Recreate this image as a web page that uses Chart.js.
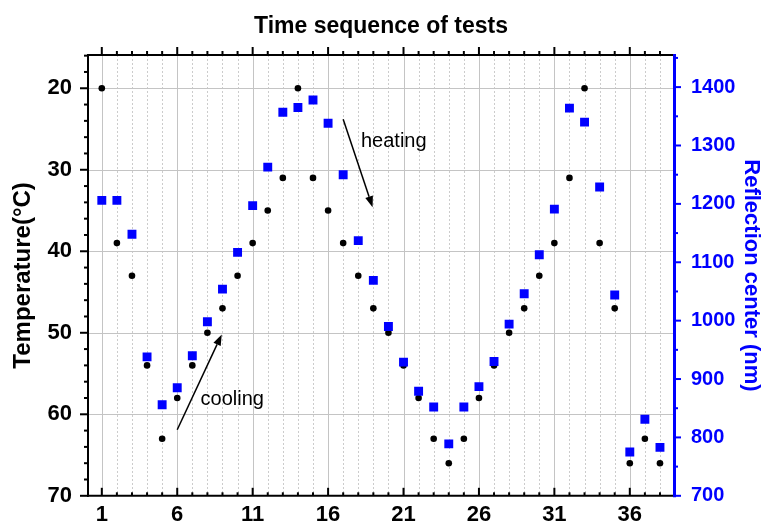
<!DOCTYPE html>
<html>
<head>
<meta charset="utf-8">
<script src="https://cdn.jsdelivr.net/npm/chart.js@4.4.0/dist/chart.umd.min.js"></script>
<style>
  html, body { margin: 0; padding: 0; background: #fff; }
</style>
</head>
<body>
<canvas id="seqChart" width="767" height="525"></canvas>
<script>
// test number along the sequence
const testIndex = [1, 2, 3, 4, 5, 6, 7, 8, 9, 10, 11, 12, 13, 14, 15, 16, 17, 18, 19,
  20, 21, 22, 23, 24, 25, 26, 27, 28, 29, 30, 31, 32, 33, 34, 35, 36, 37, 38];
// temperature of each test (°C), black dots
const temperature = [20, 39, 43, 54, 63, 58, 54, 50, 47, 43, 39, 35, 31, 20, 31, 35, 39, 43, 47,
  50, 54, 58, 63, 66, 63, 58, 54, 50, 47, 43, 39, 31, 20, 39, 47, 66, 63, 66];
// reflection center (nm), blue squares
const reflection = [1206, 1206, 1148, 938, 856, 885, 940, 998, 1054, 1117, 1197, 1263, 1357, 1365, 1378, 1338, 1250, 1137, 1069,
  990, 929, 879, 852, 789, 852, 887, 930, 994, 1046, 1113, 1191, 1364, 1340, 1229, 1044, 775, 831, 783];

const xTickValues = [1, 6, 11, 16, 21, 26, 31, 36];
const tempTickValues = [20, 30, 40, 50, 60, 70];
const tempMinorTicks = [16, 18, 22, 24, 26, 28, 32, 34, 36, 38, 42, 44, 46, 48, 52, 54, 56, 58, 62, 64, 66, 68];
const reflTickValues = [700, 800, 900, 1000, 1100, 1200, 1300, 1400];
const reflMinorTicks = [750, 850, 950, 1050, 1150, 1250, 1350, 1450];

// annotation arrows and words, in data units (x, temperature)
const arrowFrom = [[17.0, 23.8], [6.0, 61.9]];
const arrowTo = [[18.95, 34.6], [8.95, 50.2]];
const noteText = ['heating', 'cooling'];
const noteAt = [[18.18, 26.54], [7.55, 58.18]];

const BLUE = '#0000ff';
Chart.defaults.font.family = '"Liberation Sans", Arial, sans-serif';
Chart.defaults.color = '#000';

function seg(ctx, x0, y0, x1, y1) {
  ctx.beginPath();
  ctx.moveTo(x0, y0);
  ctx.lineTo(x1, y1);
  ctx.stroke();
}

function arrow(ctx, x0, y0, x1, y1) {
  const ang = Math.atan2(y1 - y0, x1 - x0);
  const head = 11, half = 4;
  const bx = x1 - head * Math.cos(ang), by = y1 - head * Math.sin(ang);
  seg(ctx, x0, y0, bx, by);
  ctx.beginPath();
  ctx.moveTo(x1, y1);
  ctx.lineTo(bx + half * Math.sin(ang), by - half * Math.cos(ang));
  ctx.lineTo(bx - half * Math.sin(ang), by + half * Math.cos(ang));
  ctx.closePath();
  ctx.fill();
}

const framePlugin = {
  id: 'frame',
  beforeDatasetsDraw(chart) {
    const {ctx, chartArea: a, scales: {x, y}} = chart;
    ctx.save();
    ctx.lineWidth = 1;
    ctx.strokeStyle = '#cccccc';
    ctx.setLineDash([2, 2]);
    testIndex.forEach(v => {
      if (xTickValues.includes(v)) return;
      const px = Math.round(x.getPixelForValue(v)) + 0.5;
      seg(ctx, px, a.top, px, a.bottom);
    });
    ctx.setLineDash([]);
    ctx.strokeStyle = '#c4c4c4';
    xTickValues.forEach(v => {
      const px = Math.round(x.getPixelForValue(v)) + 0.5;
      seg(ctx, px, a.top, px, a.bottom);
    });
    tempTickValues.forEach(v => {
      if (v >= 70) return;
      const py = Math.round(y.getPixelForValue(v)) + 0.5;
      seg(ctx, a.left, py, a.right, py);
    });
    ctx.restore();
  },
  afterDatasetsDraw(chart) {
    const {ctx, chartArea: a, scales: {x, y, y1}} = chart;
    ctx.save();
    // black frame: top, left, bottom
    ctx.strokeStyle = '#000';
    ctx.lineWidth = 2;
    seg(ctx, a.left, a.top, a.right, a.top);
    seg(ctx, a.left, a.top - 1, a.left, a.bottom + 1);
    seg(ctx, a.left - 1, a.bottom, a.right, a.bottom);
    // x ticks: bottom inward, top outward
    testIndex.forEach(v => {
      const px = x.getPixelForValue(v);
      const major = xTickValues.includes(v);
      seg(ctx, px, a.bottom, px, a.bottom - (major ? 8 : 3.5));
      seg(ctx, px, a.top, px, a.top - (major ? 8 : 4));
    });
    // left ticks outward
    tempTickValues.forEach(v => {
      const py = y.getPixelForValue(v);
      seg(ctx, a.left, py, a.left - 8, py);
    });
    tempMinorTicks.forEach(v => {
      const py = y.getPixelForValue(v);
      seg(ctx, a.left, py, a.left - 4, py);
    });
    // right axis in blue
    ctx.strokeStyle = BLUE;
    ctx.lineWidth = 3;
    seg(ctx, a.right + 0.5, a.top - 1, a.right + 0.5, a.bottom + 1.5);
    ctx.lineWidth = 2;
    reflTickValues.forEach(v => {
      const py = y1.getPixelForValue(v);
      seg(ctx, a.right, py, a.right + 7, py);
    });
    reflMinorTicks.forEach(v => {
      const py = y1.getPixelForValue(v);
      seg(ctx, a.right, py, a.right + 4, py);
    });
    // arrows and notes
    ctx.strokeStyle = '#000';
    ctx.fillStyle = '#000';
    ctx.lineWidth = 1.5;
    arrowFrom.forEach((f, i) => {
      const t = arrowTo[i];
      arrow(ctx, x.getPixelForValue(f[0]), y.getPixelForValue(f[1]),
        x.getPixelForValue(t[0]), y.getPixelForValue(t[1]));
    });
    ctx.font = '20px "Liberation Sans", Arial, sans-serif';
    ctx.textBaseline = 'middle';
    ctx.textAlign = 'left';
    noteText.forEach((txt, i) => {
      ctx.fillText(txt, x.getPixelForValue(noteAt[i][0]), y.getPixelForValue(noteAt[i][1]));
    });
    ctx.restore();
  }
};

const toPoints = vals => testIndex.map((t, i) => ({x: t, y: vals[i]}));

new Chart(document.getElementById('seqChart'), {
  type: 'scatter',
  data: {
    datasets: [
      {
        label: 'Reflection center',
        data: toPoints(reflection),
        yAxisID: 'y1',
        pointStyle: 'rect',
        pointRadius: 6.3,
        backgroundColor: BLUE,
        borderColor: BLUE,
        borderWidth: 0,
        order: 1
      },
      {
        label: 'Temperature',
        data: toPoints(temperature),
        yAxisID: 'y',
        pointStyle: 'circle',
        pointRadius: 3.3,
        backgroundColor: '#000',
        borderWidth: 0,
        order: 2
      }
    ]
  },
  options: {
    responsive: false,
    animation: false,
    devicePixelRatio: 1,
    layout: {padding: 0},
    plugins: {legend: {display: false}, tooltip: {enabled: false}},
    scales: {
      x: {
        type: 'linear', position: 'bottom', min: 0.085, max: 38.93,
        afterBuildTicks: s => { s.ticks = xTickValues.map(v => ({value: v})); },
        afterFit: s => { s.height = 28.5; },
        grid: {display: false, drawTicks: false}, border: {display: false},
        ticks: {color: '#000', font: {size: 22, weight: 'bold'}, padding: 6, maxRotation: 0, autoSkip: false,
          callback: v => String(v)}
      },
      x2: {
        type: 'linear', position: 'top', min: 0.085, max: 38.93,
        afterFit: s => { s.height = 55; },
        grid: {display: false, drawTicks: false}, border: {display: false},
        ticks: {display: false},
        title: {display: true, text: 'Time sequence of tests', color: '#000',
          font: {size: 23, weight: 'bold'}, padding: {top: 13, bottom: 0}}
      },
      y: {
        type: 'linear', position: 'left', reverse: true, min: 15.92, max: 70,
        afterBuildTicks: s => { s.ticks = tempTickValues.map(v => ({value: v})); },
        afterFit: s => { s.width = 88; },
        grid: {display: false, drawTicks: false}, border: {display: false},
        ticks: {color: '#000', font: {size: 22, weight: 'bold'}, padding: 16,
          callback: v => String(v)},
        title: {display: true, text: 'Temperature(°C)', color: '#000',
          font: {size: 24, weight: 'bold'}, padding: {top: 9, bottom: 0}}
      },
      y1: {
        type: 'linear', position: 'right', min: 700, max: 1455,
        afterBuildTicks: s => { s.ticks = reflTickValues.map(v => ({value: v})); },
        afterFit: s => { s.width = 93; },
        grid: {display: false, drawTicks: false}, border: {display: false},
        ticks: {color: BLUE, font: {size: 20, weight: 'bold'}, padding: 17,
          callback: v => String(v)},
        title: {display: true, text: 'Reflection center (nm)', color: BLUE,
          font: {size: 22, weight: 'bold'}, padding: {top: 3, bottom: 0}}
      }
    }
  },
  plugins: [framePlugin]
});
</script>
</body>
</html>
